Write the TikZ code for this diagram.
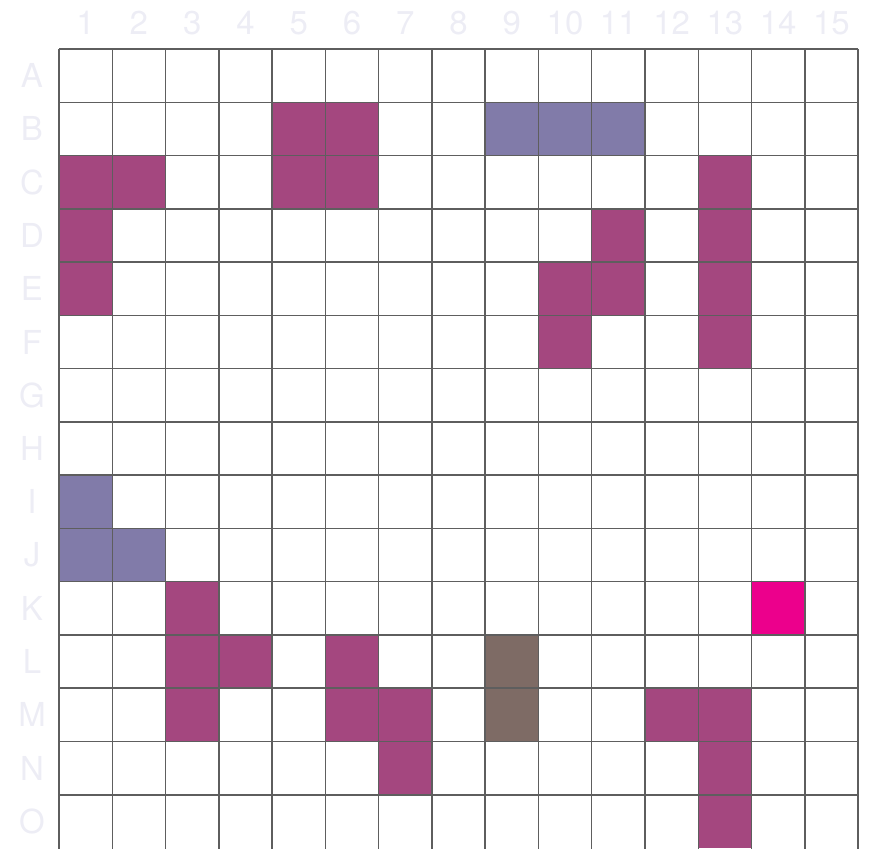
\documentclass[tikz,border=0pt]{standalone}
\usepackage{fontspec}
\setmainfont{TeX Gyre Heros}
\definecolor{pur}{HTML}{A4477F}
\definecolor{lav}{HTML}{817BA9}
\definecolor{brn}{HTML}{7E6B65}
\definecolor{mag}{HTML}{EC008C}
\definecolor{gridc}{HTML}{5E5E5E}
\definecolor{lbl}{HTML}{EDEDF5}
\tikzset{
  cellfill/.style={fill=#1, draw=none},
  gridline/.style={draw=gridc, line width=1.5pt},
  lab/.style={text=lbl, font=\fontsize{33}{33}\selectfont, inner sep=0pt, anchor=center}
}
\begin{document}
\begin{tikzpicture}[x=1pt,y=1pt]
\useasboundingbox (0,0) rectangle (869,-848);
\def\s{53.27}
\def\ox{59}
\def\oy{-49}
% cells: col/row/color
\foreach \c/\r/\col in {5/2/pur,6/2/pur,9/2/lav,10/2/lav,11/2/lav,
  1/3/pur,2/3/pur,5/3/pur,6/3/pur,13/3/pur,
  1/4/pur,11/4/pur,13/4/pur,
  1/5/pur,10/5/pur,11/5/pur,13/5/pur,
  10/6/pur,13/6/pur,
  1/9/lav,1/10/lav,2/10/lav,
  3/11/pur,14/11/mag,
  3/12/pur,4/12/pur,6/12/pur,9/12/brn,
  3/13/pur,6/13/pur,7/13/pur,9/13/brn,12/13/pur,13/13/pur,
  7/14/pur,13/14/pur,13/15/pur}{
  \fill[cellfill=\col] ({\ox+(\c-1)*\s},{\oy-(\r-1)*\s}) rectangle ({\ox+\c*\s},{\oy-\r*\s});
}
% grid lines
\foreach \i in {0,...,15}{
  \draw[gridline] ({\ox+\i*\s},{\oy}) -- ({\ox+\i*\s},{\oy-15.2*\s});
}
\foreach \i in {0,...,14}{
  \draw[gridline] ({\ox},{\oy-\i*\s}) -- ({\ox+15*\s},{\oy-\i*\s});
}
% column labels
\foreach \i in {1,...,15}{
  \node[lab] (col\i) at ({\ox+(\i-0.5)*\s},-23) {\i};
}
% row labels
\foreach \l [count=\i] in {A,B,C,D,E,F,G,H,I,J,K,L,M,N,O}{
  \node[lab] (row\l) at (32,{\oy-(\i-0.5)*\s}) {\l};
}
\end{tikzpicture}
\end{document}
